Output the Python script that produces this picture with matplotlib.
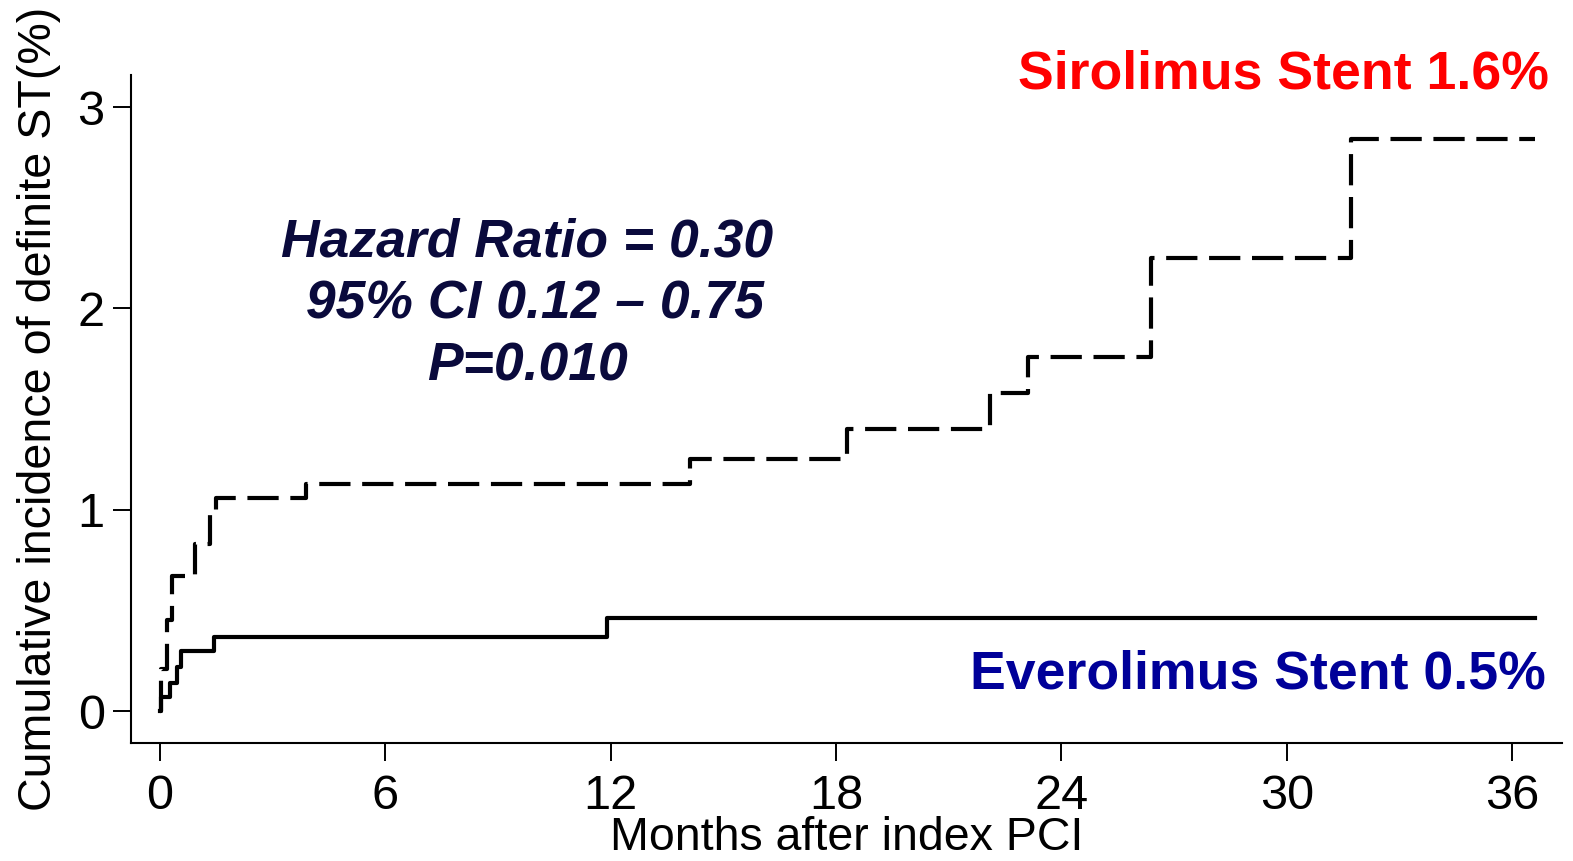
import matplotlib
matplotlib.use("Agg")
import matplotlib.pyplot as plt

# step curves (months, cumulative %)
SIR_T = [0, 0.02, 0.18, 0.32, 0.93, 1.33, 1.5, 3.9, 14.1, 18.3, 22.1, 23.1, 26.4, 31.7, 36.6]
SIR_Y = [0, 0.21, 0.45, 0.67, 0.83, 0.98, 1.06, 1.13, 1.25, 1.40, 1.58, 1.76, 2.25, 2.84, 2.84]
EVR_T = [0, 0.02, 0.27, 0.45, 0.55, 1.45, 11.9, 36.6]
EVR_Y = [0, 0.07, 0.14, 0.22, 0.30, 0.37, 0.46, 0.46]

X_TICKS = [0, 6, 12, 18, 24, 30, 36]
Y_TICKS = [0, 1, 2, 3]

plt.rcParams["font.family"] = ["Liberation Sans", "DejaVu Sans"]

fig = plt.figure(figsize=(15.73, 8.61), dpi=100)
ax = fig.add_axes([0.0833, 0.137, 0.9097, 0.776])

ax.step(SIR_T, SIR_Y, where="post", color="black", lw=3.0,
        dashes=(7.5, 2.8), solid_capstyle="butt")
ax.step(EVR_T, EVR_Y, where="post", color="black", lw=3.0)

ax.set_xlim(-0.77, 37.33)
ax.set_ylim(-0.159, 3.16)
ax.set_xticks(X_TICKS)
ax.set_yticks(Y_TICKS)
for s in ("top", "right"):
    ax.spines[s].set_visible(False)
for s in ("left", "bottom"):
    ax.spines[s].set_linewidth(1.5)
ax.tick_params(axis="both", direction="out", length=13, width=1.4, labelsize=35)
ax.tick_params(axis="x", pad=9)
ax.tick_params(axis="y", pad=6)

ax.set_xlabel("Months after index PCI", fontsize=33.5, labelpad=-2)
ax.set_ylabel("Cumulative incidence of definite ST(%)", fontsize=33.6, labelpad=12)

ax.text(0.991, 1.0, "Sirolimus Stent 1.6%", transform=ax.transAxes,
        ha="right", va="center", color="#ff0000", fontsize=38.6, fontweight="bold")
ax.text(0.989, 0.102, "Everolimus Stent 0.5%", transform=ax.transAxes,
        ha="right", va="center", color="#000099", fontsize=38.6, fontweight="bold")
ax.text(0.277, 0.656, "Hazard Ratio = 0.30\n 95% CI 0.12 \u2013 0.75\nP=0.010",
        transform=ax.transAxes, ha="center", va="center", color="#0a0a3c",
        fontsize=38.5, fontweight="bold", fontstyle="italic", linespacing=1.31)

fig.savefig("out.png", dpi=100)
